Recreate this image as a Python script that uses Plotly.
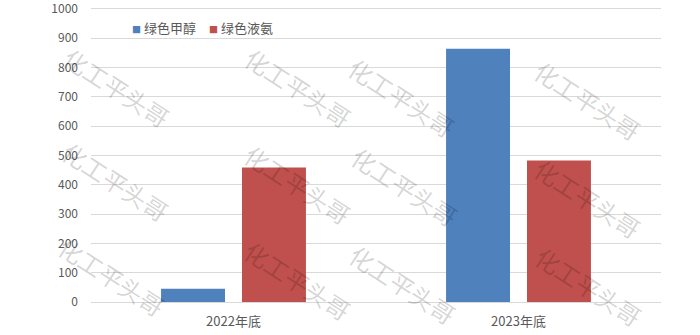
import plotly.graph_objects as go

# Data
categories = ["2022年底", "2023年底"]
series_names = ["绿色甲醇", "绿色液氨"]
methanol = [45, 864]
ammonia = [459, 483]
y_ticks = [0, 100, 200, 300, 400, 500, 600, 700, 800, 900, 1000]
y_max = 1010

colors = ["#4F81BD", "#C0504D"]
font_family = "Noto Sans CJK SC, Liberation Sans, sans-serif"

W, H = 700, 335
margin = dict(l=91, r=39, t=6, b=33)
plot_w = W - margin["l"] - margin["r"]
plot_h = H - margin["t"] - margin["b"]


def px_to_paper(px, py):
    return (px - margin["l"]) / plot_w, (H - margin["b"] - py) / plot_h


fig = go.Figure()
for name, vals, col in zip(series_names, [methanol, ammonia], colors):
    fig.add_trace(go.Bar(
        x=categories, y=vals, name=name,
        marker=dict(color=col, line=dict(width=0)),
        showlegend=False,
    ))

annotations = []

# Legend keys drawn as small coloured squares followed by the series name
legend_x = [130, 207]
for lx, name, col in zip(legend_x, series_names, colors):
    x, y = px_to_paper(lx, 27)
    annotations.append(dict(
        x=x, y=y, xref="paper", yref="paper", showarrow=False,
        xanchor="left", yanchor="middle",
        text=f"<span style='color:{col};font-size:9px'>■</span> {name}",
        font=dict(family=font_family, size=13, color="#595959"),
    ))

# Watermark text layout (pixel centres on the page)
wm_centres = [
    (117, 87), (298, 88), (402, 97), (588, 100),
    (116, 181), (298, 184), (405, 186), (588, 198),
    (112, 276), (298, 280), (403, 284), (589, 286),
]
for px, py in wm_centres:
    x, y = px_to_paper(px, py)
    annotations.append(dict(
        x=x, y=y, xref="paper", yref="paper",
        text="化工平头哥", showarrow=False, textangle=33,
        font=dict(family=font_family, size=24, color="rgba(0,0,0,0.18)"),
        xanchor="center", yanchor="middle",
    ))

fig.update_layout(
    width=W, height=H,
    margin=margin,
    paper_bgcolor="white", plot_bgcolor="white",
    barmode="group", bargap=0.432, bargroupgap=0.21,
    font=dict(family=font_family, size=12, color="#595959"),
    showlegend=False,
    annotations=annotations,
    xaxis=dict(
        showgrid=False, showline=False, zeroline=False,
        tickfont=dict(size=13, color="#595959"),
        ticks="", ticklabelstandoff=10, automargin=False,
    ),
    yaxis=dict(
        range=[0, y_max], tickvals=y_ticks, ticks="",
        showgrid=True, gridcolor="#d9d9d9", gridwidth=1.2,
        zeroline=True, zerolinecolor="#d9d9d9", zerolinewidth=1.2,
        showline=False, tickfont=dict(size=12, color="#595959"),
        ticklabelstandoff=12, automargin=False,
        ticklabeloverflow="allow",
    ),
)

fig.write_html("out.html")
